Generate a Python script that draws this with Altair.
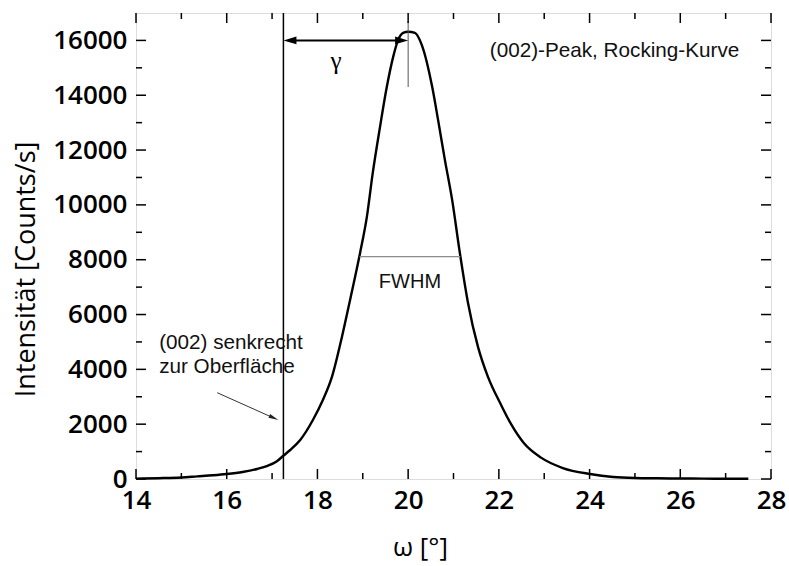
import altair as alt
import pandas as pd

# Rocking curve
omega = [14.0, 14.5, 15.0, 15.35, 15.7, 16.0, 16.35, 16.67, 16.9, 17.1, 17.25, 17.40, 17.62,
         17.90, 18.12, 18.32, 18.54, 18.72, 18.94, 19.09, 19.22, 19.38, 19.53, 19.67,
         19.78, 19.89, 20.00, 20.15, 20.30, 20.53, 20.66, 20.81, 20.97, 21.14, 21.32,
         21.54, 21.76, 22.05, 22.27, 22.55, 22.93, 23.41, 24.01, 24.52, 25.0, 25.5,
         26.0, 26.5, 27.0, 27.5]
counts = [15, 30, 55, 95, 135, 180, 255, 365, 480, 640, 850, 1058, 1423,
          2153, 2883, 3723, 5182, 6533, 8248, 9562, 11168, 12847, 14307, 15400,
          16020, 16277, 16314, 16277, 15840, 14307, 13100, 11642, 10182, 8248, 6423,
          4818, 3723, 2700, 2000, 1314, 780, 401, 182, 73, 36, 25,
          18, 14, 10, 8]

x_major = [14, 16, 18, 20, 22, 24, 26, 28]
x_minor = [15, 17, 19, 21, 23, 25, 27]
y_major = [0, 2000, 4000, 6000, 8000, 10000, 12000, 14000, 16000]
y_minor = [1000, 3000, 5000, 7000, 9000, 11000, 13000, 15000]

# annotation anchors (data coordinates)
surface_w = 17.25
peak_w = 20.0
gamma_y = 16000
fwhm_x = [18.93, 21.15]
fwhm_y = 8110
peak_mark_y = [14300, 16700]
small_arrow_from = (15.79, 3148)
small_arrow_to = (17.14, 2152)

W, H = 635, 466
xs = alt.Scale(domain=[14, 28], nice=False, zero=False)
ys = alt.Scale(domain=[0, 17000], nice=False, zero=False)


def X(f):
    return alt.X(f, scale=xs)


def Y(f):
    return alt.Y(f, scale=ys)


df = pd.DataFrame({"w": omega, "c": counts})

curve = alt.Chart(df).mark_line(color="black", strokeWidth=2.4, interpolate="monotone").encode(
    x=alt.X("w:Q", scale=xs, axis=alt.Axis(
        values=x_major, ticks=False, domain=False, grid=False,
        labelFont="Open Sans", labelFontSize=26, labelFontWeight=600, labelColor="black",
        labelPadding=8, labelFlush=False, format="d",
        title="ω [°]", titleFont="Open Sans", titleFontSize=26, titleFontWeight="normal",
        titleColor="black", titleX=284, titleY=76, titleBaseline="alphabetic", titleAlign="center")),
    y=alt.Y("c:Q", scale=ys, axis=alt.Axis(
        values=y_major, ticks=False, domain=False, grid=False,
        labelFont="Open Sans", labelFontSize=26, labelFontWeight=600, labelColor="black",
        labelPadding=9, labelFlush=False, format="d",
        title="Intensität [Counts/s]", titleFont="Open Sans", titleFontSize=27,
        titleFontWeight="normal", titleColor="black", titleAngle=270,
        titleX=-110, titleY=256, titleBaseline="middle", titleAlign="center")),
)


def ticks_x(vals, length, top):
    d = pd.DataFrame({"w": vals})
    if top:
        return alt.Chart(d).mark_rule(color="black", strokeWidth=1.5).encode(
            x=X("w:Q"), y=alt.value(0), y2=alt.value(length))
    return alt.Chart(d).mark_rule(color="black", strokeWidth=1.5).encode(
        x=X("w:Q"), y=alt.value(H), y2=alt.value(H - length))


def ticks_y(vals, length, right):
    d = pd.DataFrame({"c": vals})
    if right:
        return alt.Chart(d).mark_rule(color="black", strokeWidth=1.5).encode(
            y=Y("c:Q"), x=alt.value(W), x2=alt.value(W - length))
    return alt.Chart(d).mark_rule(color="black", strokeWidth=1.5).encode(
        y=Y("c:Q"), x=alt.value(0), x2=alt.value(length))


tick_layers = [
    ticks_x(x_major, 10, False), ticks_x(x_minor, 6, False),
    ticks_x(x_major, 10, True), ticks_x(x_minor, 6, True),
    ticks_y(y_major, 10, False), ticks_y(y_minor, 6, False),
    ticks_y(y_major, 10, True), ticks_y(y_minor, 6, True),
]

surface = alt.Chart(pd.DataFrame({"w": [surface_w]})).mark_rule(
    color="black", strokeWidth=1.5).encode(x=X("w:Q"))

gamma_line = alt.Chart(pd.DataFrame({"w": [surface_w + 0.15], "b": [peak_w - 0.15], "c": [gamma_y]})).mark_rule(
    color="black", strokeWidth=2).encode(x=X("w:Q"), x2="b:Q", y=Y("c:Q"))

heads = pd.DataFrame({"w": [surface_w, peak_w], "c": [gamma_y, gamma_y], "ang": [180, 0]})
gamma_heads = alt.Chart(heads).mark_point(
    shape="M0,0 L-2,-0.6 L-2,0.6 Z", filled=True, color="black", opacity=1, size=169).encode(
    x=X("w:Q"), y=Y("c:Q"), angle=alt.Angle("ang:Q", scale=None))

peak_mark = alt.Chart(pd.DataFrame({"w": [peak_w], "c": [peak_mark_y[0]], "b": [peak_mark_y[1]]})).mark_rule(
    color="#555555", strokeWidth=1).encode(x=X("w:Q"), y=Y("c:Q"), y2="b:Q")

fwhm = alt.Chart(pd.DataFrame({"w": [fwhm_x[0]], "b": [fwhm_x[1]], "c": [fwhm_y]})).mark_rule(
    color="#8c8c8c", strokeWidth=1.3).encode(x=X("w:Q"), x2="b:Q", y=Y("c:Q"))

small_line = alt.Chart(pd.DataFrame({
    "w": [small_arrow_from[0]], "c": [small_arrow_from[1]],
    "x2": [small_arrow_to[0] - 0.1], "y2": [small_arrow_to[1] + 70]})).mark_rule(
    color="#333333", strokeWidth=1).encode(x=X("w:Q"), y=Y("c:Q"), x2="x2:Q", y2="y2:Q")

small_head = alt.Chart(pd.DataFrame({"w": [small_arrow_to[0]], "c": [small_arrow_to[1]], "ang": [24]})).mark_point(
    shape="M0,0 L-2,-0.4 L-2,0.4 Z", filled=True, color="#222222", opacity=1, size=100).encode(
    x=X("w:Q"), y=Y("c:Q"), angle=alt.Angle("ang:Q", scale=None))

texts = pd.DataFrame({
    "w": [21.80, 20.04, 14.51, 14.51],
    "c": [15380, 6968, 4731, 3856],
    "t": ["(002)-Peak, Rocking-Kurve", "FWHM", "(002) senkrecht", "zur Oberfläche"],
    "al": ["left", "center", "left", "left"],
})
text_left = alt.Chart(texts[texts.al == "left"]).mark_text(
    font="Liberation Sans", fontSize=20.7, color="#111111", align="left", baseline="alphabetic").encode(
    x=X("w:Q"), y=Y("c:Q"), text="t:N")
text_center = alt.Chart(texts[texts.al == "center"]).mark_text(
    font="Liberation Sans", fontSize=20, color="#111111", align="center", baseline="alphabetic").encode(
    x=X("w:Q"), y=Y("c:Q"), text="t:N")

gamma_text = alt.Chart(pd.DataFrame({"w": [18.41], "c": [14957], "t": ["γ"]})).mark_text(
    font="Liberation Serif", fontSize=25, color="black", align="center", baseline="alphabetic").encode(
    x=X("w:Q"), y=Y("c:Q"), text="t:N")

chart = alt.layer(
    curve, surface, fwhm, peak_mark, gamma_line, gamma_heads, small_line, small_head,
    text_left, text_center, gamma_text, *tick_layers,
).properties(
    width=W, height=H,
    autosize=alt.AutoSizeParams(type="none"),
    padding={"left": 136, "top": 13, "right": 18, "bottom": 87},
).configure_view(stroke="black", strokeWidth=2).configure_axis(grid=False).configure(background="white")

chart.save("out.html", embed_options={"renderer": "svg", "actions": False})
